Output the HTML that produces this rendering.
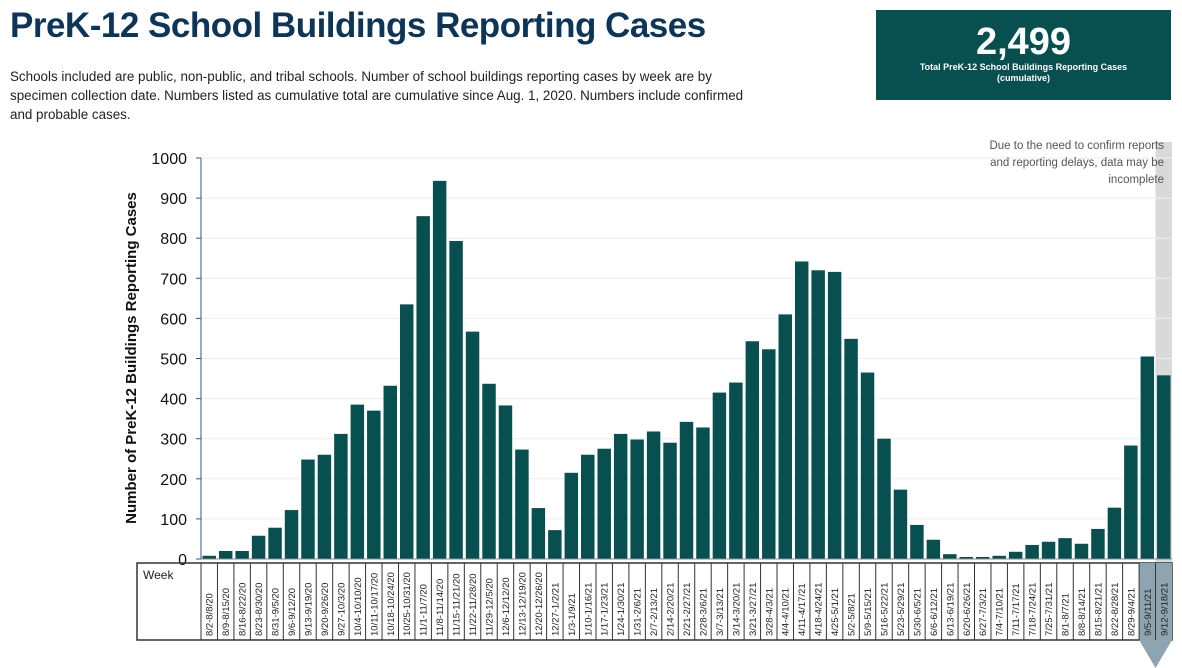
<!DOCTYPE html>
<html><head><meta charset="utf-8"><style>
body{margin:0;width:1182px;height:668px;background:#fff;font-family:"Liberation Sans",sans-serif;overflow:hidden;position:relative}
h1{position:absolute;left:10px;top:6px;margin:0;font-size:35px;font-weight:bold;color:#0d3557;letter-spacing:-0.5px}
.desc{position:absolute;left:10px;top:67px;width:745px;font-size:13.4px;line-height:19px;color:#222}
.box{position:absolute;left:876px;top:10px;width:295px;height:90px;background:#07504f;color:#fff;text-align:center}
.box .n{font-size:38px;font-weight:bold;margin-top:12px;line-height:40px}
.box .l{font-size:9px;font-weight:bold;line-height:11px}
.note{position:absolute;right:18px;top:138px;text-align:right;font-size:11.5px;line-height:17px;color:#555}
</style></head><body>
<h1>PreK-12 School Buildings Reporting Cases</h1>
<div class="desc">Schools included are public, non-public, and tribal schools. Number of school buildings reporting cases by week are by specimen collection date. Numbers listed as cumulative total are cumulative since Aug. 1, 2020. Numbers include confirmed and probable cases.</div>
<div class="box"><div class="n">2,499</div><div class="l">Total PreK-12 School Buildings Reporting Cases<br>(cumulative)</div></div>
<svg id="chart" width="1182" height="668" style="position:absolute;left:0;top:0"></svg>
<div class="note">Due to the need to confirm reports<br>and reporting delays, data may be<br>incomplete</div>
<script>
const categories=["8/2-8/8/20","8/9-8/15/20","8/16-8/22/20","8/23-8/30/20","8/31-9/5/20","9/6-9/12/20","9/13-9/19/20","9/20-9/26/20","9/27-10/3/20","10/4-10/10/20","10/11-10/17/20","10/18-10/24/20","10/25-10/31/20","11/1-11/7/20","11/8-11/14/20","11/15-11/21/20","11/22-11/28/20","11/29-12/5/20","12/6-12/12/20","12/13-12/19/20","12/20-12/26/20","12/27-1/2/21","1/3-1/9/21","1/10-1/16/21","1/17-1/23/21","1/24-1/30/21","1/31-2/6/21","2/7-2/13/21","2/14-2/20/21","2/21-2/27/21","2/28-3/6/21","3/7-3/13/21","3/14-3/20/21","3/21-3/27/21","3/28-4/3/21","4/4-4/10/21","4/11-4/17/21","4/18-4/24/21","4/25-5/1/21","5/2-5/8/21","5/9-5/15/21","5/16-5/22/21","5/23-5/29/21","5/30-6/5/21","6/6-6/12/21","6/13-6/19/21","6/20-6/26/21","6/27-7/3/21","7/4-7/10/21","7/11-7/17/21","7/18-7/24/21","7/25-7/31/21","8/1-8/7/21","8/8-8/14/21","8/15-8/21/21","8/22-8/28/21","8/29-9/4/21","9/5-9/11/21","9/12-9/18/21"];
const values=[8,20,20,58,78,122,248,260,312,385,370,432,635,855,943,793,567,437,383,273,127,72,215,260,275,312,298,318,290,342,328,415,440,543,523,610,742,720,716,549,465,300,173,85,48,12,5,5,8,18,35,43,52,38,75,128,283,505,458];
const yTicks=[0,100,200,300,400,500,600,700,800,900,1000];
const incompleteCount=2;
const NS="http://www.w3.org/2000/svg",svg=document.getElementById('chart');
const x0=201,x1=1172,y0=559,y1=158,ymax=1000;
const bw=(x1-x0)/categories.length;
const ys=v=>y0-(v/ymax)*(y0-y1);
const xs=i=>x0+i*bw;
function mk(t,a){const e=document.createElementNS(NS,t);for(const k in a)e.setAttribute(k,a[k]);svg.appendChild(e);return e;}
const sh=mk('rect',{x:xs(categories.length-1),y:142,width:bw,height:640-142,fill:'#d9d9d9'});


yTicks.forEach(t=>{
  const g=mk('line',{x1:x0,x2:x1,y1:ys(t),y2:ys(t),stroke:'#eeeeee'});
  
  
  mk('line',{x1:x0-5,x2:x0,y1:ys(t),y2:ys(t),stroke:'#2c5a84'});
  const tx=mk('text',{x:x0-14,y:ys(t)+6,'text-anchor':'end','font-size':16,fill:'#111'});
  tx.textContent=t;
  
  
});
values.forEach((v,i)=>{
  const r=mk('rect',{x:xs(i)+1.5,y:ys(v),width:bw-3,height:y0-ys(v),fill:'#07504f'});
  
  
});
mk('line',{x1:x0,x2:x0,y1:y1,y2:y0,stroke:'#2c5a84'});
mk('line',{x1:x0,x2:x1,y1:y0,y2:y0,stroke:'#888'});
const yt=mk('text',{x:0,y:0,transform:'translate(136,358) rotate(-90)','text-anchor':'middle','font-size':15,'font-weight':'bold',fill:'#111'});
yt.textContent='Number of PreK-12 Buildings Reporting Cases';


const tb=mk('rect',{x:137,y:563,width:x1-137,height:77,fill:'none',stroke:'#333','stroke-width':1.5});


const wk=mk('text',{x:143,y:579,'font-size':12,fill:'#222'});
wk.textContent='Week';


for(let i=0;i<incompleteCount;i++){
  mk('rect',{x:xs(categories.length-incompleteCount+i),y:563,width:bw,height:77,fill:'#8fa4b1'});
}
mk('polygon',{points:`${xs(categories.length-2)},640 ${x1},640 ${(xs(categories.length-2)+x1)/2},668`,fill:'#8fa4b1'});
categories.forEach((c,i)=>{
  mk('line',{x1:xs(i),x2:xs(i),y1:563,y2:640,stroke:'#333'});
  const t=mk('text',{x:0,y:0,transform:`translate(${xs(i)+bw/2+3.5},636) rotate(-90)`,'font-size':9.5,fill:'#222'});
  t.textContent=c;
  
  
});
</script>
</body></html>
